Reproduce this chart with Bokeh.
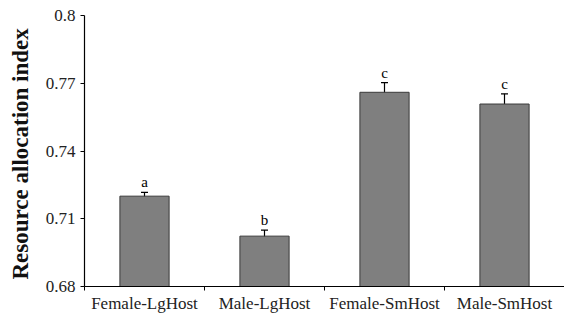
from bokeh.plotting import figure
from bokeh.models import (ColumnDataSource, Range1d, FixedTicker, Whisker, TeeHead,
                          CustomJSTickFormatter)
from bokeh.core.properties import value
from bokeh.embed import file_html
from bokeh.resources import INLINE

categories = ["Female-LgHost", "Male-LgHost", "Female-SmHost", "Male-SmHost"]
means = [0.720, 0.7023, 0.766, 0.7608]
errors = [0.0017, 0.0027, 0.0043, 0.0045]
letters = ["a", "b", "c", "c"]
y_ticks = [0.68, 0.71, 0.74, 0.77, 0.80]

xs = [i + 1 for i in range(len(categories))]
src = ColumnDataSource(dict(
    x=xs, top=means,
    upper=[m + e for m, e in zip(means, errors)],
    lower=[m - e for m, e in zip(means, errors)],
    letter=letters,
))

FONT = "Liberation Serif"

p = figure(width=564, height=320, output_backend="svg", toolbar_location=None,
           x_range=Range1d(0.5, 4.5), y_range=Range1d(0.68, 0.80),
           min_border_left=84, min_border_right=0, min_border_top=15, min_border_bottom=34)
p.outline_line_color = None
p.xgrid.visible = False
p.ygrid.visible = False
p.background_fill_color = "white"
p.border_fill_color = "white"

p.vbar(x="x", top="top", bottom=0.68, width=0.41, source=src,
       fill_color="#7f7f7f", line_color="#3a3a3a", line_width=1)

p.add_layout(Whisker(base="x", upper="upper", lower="lower", source=src,
                     line_color="black", line_width=1.2,
                     upper_head=TeeHead(size=7, line_color="black", line_width=1.2),
                     lower_head=TeeHead(size=7, line_color="black", line_width=1.2)))

p.text(x="x", y="upper", text="letter", source=src, text_align="center",
       text_baseline="bottom", y_offset=-2, text_font=value(FONT),
       text_font_size="15px", text_color="black")

# x axis
xa = p.xaxis[0]
xa.ticker = FixedTicker(ticks=xs, minor_ticks=[0.5 + i for i in range(len(categories) + 1)])
xa.formatter = CustomJSTickFormatter(args=dict(labels=categories),
                                     code="return labels[Math.round(tick) - 1] || '';")
xa.major_tick_out = 0
xa.major_tick_in = 0
xa.minor_tick_out = 4
xa.minor_tick_in = 0
xa.minor_tick_line_color = "black"
xa.axis_line_color = "black"
xa.axis_line_width = 1.2
xa.major_label_text_font = FONT
xa.major_label_text_font_size = "17px"
xa.major_label_text_color = "#222222"
xa.major_label_standoff = 3

# y axis
ya = p.yaxis[0]
ya.ticker = FixedTicker(ticks=y_ticks)
ya.formatter = CustomJSTickFormatter(code="return String(Math.round(tick * 100) / 100);")
ya.major_tick_out = 4
ya.major_tick_in = 0
ya.minor_tick_out = 0
ya.minor_tick_in = 0
ya.axis_line_color = "black"
ya.axis_line_width = 1.2
ya.major_tick_line_color = "black"
ya.major_label_text_font = FONT
ya.major_label_text_font_size = "17px"
ya.major_label_text_color = "#222222"
ya.major_label_standoff = 5
ya.axis_label = "Resource  allocation index"
ya.axis_label_text_font = FONT
ya.axis_label_text_font_style = "bold"
ya.axis_label_text_font_size = "23px"
ya.axis_label_text_color = "#111111"
ya.axis_label_standoff = 10

open("out.html", "w").write(file_html(p, INLINE))
